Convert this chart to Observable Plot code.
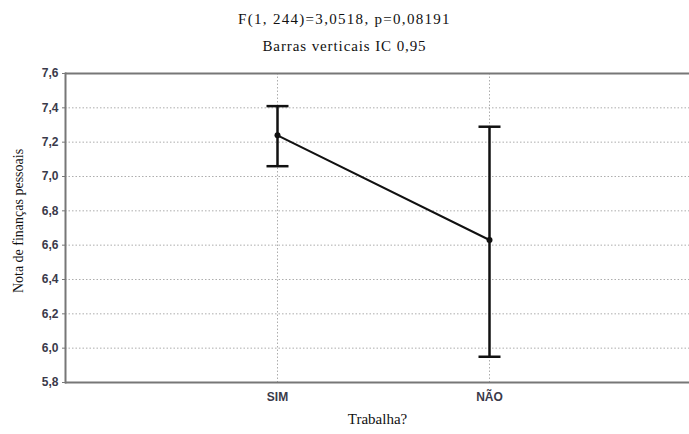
<!DOCTYPE html>
<html>
<head>
<meta charset="utf-8">
<script src="https://cdn.jsdelivr.net/npm/d3@7"></script>
<script src="https://cdn.jsdelivr.net/npm/@observablehq/plot@0.6"></script>
<style>
  html, body { margin: 0; padding: 0; background: #fff; }
  #wrap { width: 689px; }
  #head { width: 689px; padding-top: 6px; height: 54px; text-align: center; }
  #head div { font-family: "Liberation Serif", "Times New Roman", serif; font-size: 15px; color: #111; line-height: 27px; letter-spacing: 0.9px; }
  #head div.l1 { letter-spacing: 1.3px; }
  svg { display: block; }
</style>
</head>
<body>
<div id="wrap">
  <div id="head">
    <div class="l1">F(1, 244)=3,0518, p=0,08191</div>
    <div>Barras verticais IC 0,95</div>
  </div>
  <div id="chart"></div>
</div>
<script>
const categories = ["SIM", "NÃO"];
const means = [7.24, 6.63];
const lower = [7.06, 5.95];
const upper = [7.41, 7.29];
const yTicks = [5.8, 6.0, 6.2, 6.4, 6.6, 6.8, 7.0, 7.2, 7.4, 7.6];
const yTitle = "Nota de finanças pessoais";
const xTitle = "Trabalha?";

const data = categories.map((c, i) => ({cat: c, mean: means[i], lo: lower[i], hi: upper[i]}));
const fmt = d => d.toFixed(1).replace(".", ",");
const cap = { draw(ctx) { ctx.moveTo(-11, 0); ctx.lineTo(11, 0); } };

const plot = Plot.plot({
  width: 689,
  height: 374,
  marginLeft: 65,
  marginRight: 0,
  marginTop: 13,
  marginBottom: 52,
  style: { background: "#fff", overflow: "visible" },
  x: { type: "point", domain: categories, padding: 1, range: [65, 701] },
  y: { domain: [5.8, 7.6] },
  marks: [
    Plot.gridY(yTicks.filter(v => v > 5.8 && v < 7.6), { stroke: "#999", strokeOpacity: 0.8, strokeDasharray: "1.5,2" }),
    Plot.gridX(categories, { stroke: "#999", strokeOpacity: 0.8, strokeDasharray: "1.5,2" }),
    Plot.ruleY([5.8, 7.6], { stroke: "#777", strokeWidth: 2 }),
    Plot.frame({ anchor: "left", stroke: "#777", strokeWidth: 2 }),
    Plot.axisY({ ticks: yTicks, tickFormat: fmt, tickSize: 3, tickPadding: 4, label: null,
      fontFamily: "Liberation Sans, Arial, sans-serif", fontSize: 12, fontWeight: "bold", fill: "#3a3a4a", stroke: "#777" }),
    Plot.axisX({ tickSize: 0, tickPadding: 10, label: null,
      fontFamily: "Liberation Sans, Arial, sans-serif", fontSize: 12, fontWeight: "bold", fill: "#3a3a4a" }),
    Plot.ruleX(data, { x: "cat", y1: "lo", y2: "hi", stroke: "#111", strokeWidth: 2.5 }),
    Plot.dot(data, { x: "cat", y: "hi", symbol: cap, r: 5, stroke: "#111", fill: "none", strokeWidth: 2.5 }),
    Plot.dot(data, { x: "cat", y: "lo", symbol: cap, r: 5, stroke: "#111", fill: "none", strokeWidth: 2.5 }),
    Plot.line(data, { x: "cat", y: "mean", stroke: "#111", strokeWidth: 2 }),
    Plot.dot(data, { x: "cat", y: "mean", r: 3, fill: "#111" }),
    Plot.text([yTitle], { frameAnchor: "left", textAnchor: "middle", rotate: -90, dx: -47, dy: -7, fontFamily: "Liberation Serif, serif", fontSize: 14, fill: "#111", letterSpacing: "0.9px" }),
    Plot.text([xTitle], { frameAnchor: "bottom", textAnchor: "middle", dy: 41, fontFamily: "Liberation Serif, serif", fontSize: 15, fill: "#111", letterSpacing: "0.8px" })
  ]
});
document.getElementById("chart").appendChild(plot);
</script>
</body>
</html>
